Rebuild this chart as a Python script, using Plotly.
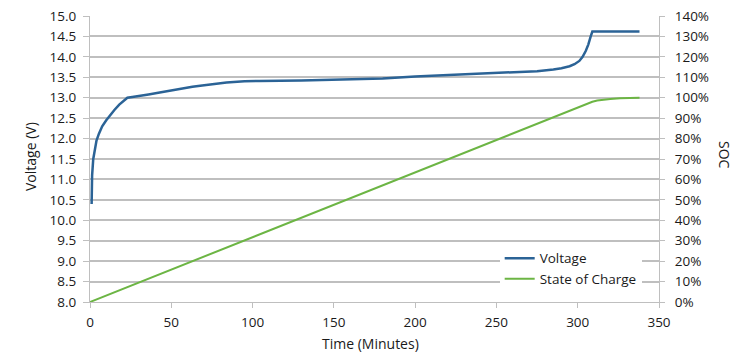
import plotly.graph_objects as go

# Voltage curve (minutes, volts)
volt_t = [1, 1.3, 2, 3, 4, 5.5, 7.5, 10, 12, 15, 18, 21, 23, 26, 30, 36, 42, 47, 52, 58, 63, 69, 75, 84, 95,
          104, 130, 160, 180, 200, 230, 264, 275, 285, 290, 295, 298, 301, 303, 305, 306.5, 308, 309, 320, 338]
volt_v = [10.4, 11.1, 11.5, 11.78, 11.95, 12.12, 12.3, 12.45, 12.56, 12.7, 12.83, 12.94, 13.0, 13.02, 13.04,
          13.08, 13.12, 13.16, 13.2, 13.24, 13.27, 13.3, 13.33, 13.37, 13.4, 13.41, 13.42, 13.44, 13.47, 13.52,
          13.57, 13.62, 13.65, 13.69, 13.72, 13.77, 13.82, 13.9, 14.0, 14.15, 14.3, 14.5, 14.62, 14.62, 14.62]

# State of charge (minutes, %)
soc_t = [0, 67, 150, 230, 283, 295, 300, 303, 306, 309, 312, 316, 320, 326, 332, 338]
soc_v = [0, 21.3, 47.6, 73.0, 89.6, 93.5, 95.0, 96.0, 97.1, 98.0, 98.6, 99.1, 99.4, 99.7, 99.9, 100]

x_ticks = [0, 50, 100, 150, 200, 250, 300, 350]

FONT = "Open Sans"
TXT = "#1a1a1a"
GRID = "#bfbfbf"
FS = 13.5

# page offset (body margin) compensation
OFF = 8
PL, PR, PT, PB = 90, 659, 16, 302  # plot area in window pixels
W, H = 750, 359

fig = go.Figure()
fig.add_trace(go.Scatter(x=volt_t, y=volt_v, name="Voltage", mode="lines",
                         line=dict(color="#2b6396", width=2.5)))
fig.add_trace(go.Scatter(x=soc_t, y=soc_v, name="State of Charge", mode="lines", yaxis="y2",
                         line=dict(color="#6cb544", width=2)))

pw, ph = PR - PL, PB - PT


def px(x):
    return (x - PL) / pw


def py(y):
    return (PB - y) / ph


fig.update_layout(
    width=W, height=H,
    margin=dict(l=PL - OFF, r=W - (PR - OFF), t=PT - OFF, b=H - (PB - OFF), autoexpand=False),
    paper_bgcolor="white", plot_bgcolor="white",
    font=dict(family=FONT, size=FS, color=TXT),
    showlegend=True,
    legend=dict(x=0.72, xanchor="left", y=0.025, yanchor="bottom", bgcolor="white",
                font=dict(size=FS, color=TXT), tracegroupgap=0, itemwidth=30,
                borderwidth=0),
    xaxis=dict(range=[0, 350], tickvals=x_ticks, showgrid=False, showline=True, linecolor=GRID,
               linewidth=1, ticks="outside", ticklen=5, tickcolor=GRID, zeroline=False,
               automargin=False, ticklabelstandoff=3),
    yaxis=dict(range=[8, 15], dtick=0.5, tickformat=".1f", showgrid=True, gridcolor=GRID, gridwidth=1.5,
               showline=True, linecolor=GRID, linewidth=1, ticks="outside", ticklen=6, tickcolor=GRID,
               zeroline=False, automargin=False, ticklabelstandoff=4, ticklabeloverflow="allow"),
    yaxis2=dict(range=[0, 140], dtick=10, ticksuffix="%", overlaying="y", side="right",
                showgrid=False, showline=True, linecolor=GRID, linewidth=1, ticks="outside",
                ticklen=5, tickcolor=GRID, zeroline=False, automargin=False, ticklabelstandoff=7,
                ticklabeloverflow="allow"),
    annotations=[
        dict(text="SOC", x=px(725), y=py(155), xref="paper", yref="paper", showarrow=False,
             textangle=90, font=dict(size=14, color=TXT), xanchor="center", yanchor="middle"),
        dict(text="Voltage (V)", x=px(30), y=py(157), xref="paper", yref="paper", showarrow=False,
             textangle=-90, font=dict(size=14, color=TXT), xanchor="center", yanchor="middle"),
        dict(text="Time (Minutes)", x=px(370), y=py(343), xref="paper", yref="paper", showarrow=False,
             font=dict(size=14, color=TXT), xanchor="center", yanchor="middle"),
    ],
)

fig.write_html("out.html")
